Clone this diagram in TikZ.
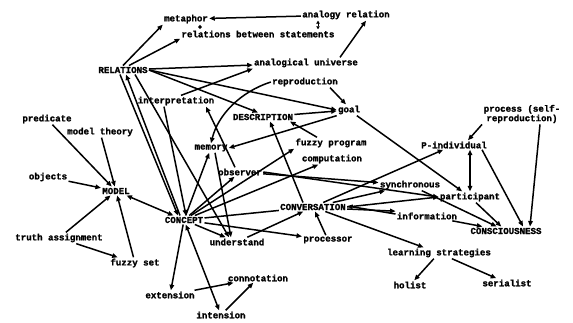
\documentclass[tikz,border=0pt]{standalone}
\usepackage{fontspec}
\setmonofont{Liberation Mono}[BoldFeatures={FakeBold=1.6}]
\usetikzlibrary{arrows.meta}
\begin{document}
\begin{tikzpicture}[x=1pt,y=-1pt,
  lbl/.style={font=\ttfamily\bfseries\fontsize{9.1}{9.5}\selectfont, inner sep=1.2pt},
  link/.style={line width=1.5pt, -{Triangle[length=5.5pt,width=4.5pt]}},
  plain/.style={line width=1.5pt},
  both/.style={line width=1.5pt, {Triangle[length=5.5pt,width=4.5pt]}-{Triangle[length=5.5pt,width=4.5pt]}},
  tiny/.style={line width=1pt, {Triangle[length=3pt,width=3.5pt]}-{Triangle[length=3pt,width=3.5pt]}},
]
\useasboundingbox (0,0) rectangle (573,322);

% concepts
\node[lbl] (meta) at (186,19) {metaphor};
\node[lbl] (anrel) at (346,15) {analogy relation};
\node[lbl] (rbs) at (258,34) {relations between statements};
\node[lbl] (rel) at (123,70) {RELATIONS};
\node[lbl] (anuniv) at (306,63) {analogical universe};
\node[lbl] (repro) at (305,82) {reproduction};
\node[lbl] (interp) at (176,101) {interpretation};
\node[lbl] (goal) at (349,110) {goal};
\node[lbl] (desc) at (263,117) {DESCRIPTION};
\node[lbl] (pred) at (47,119) {predicate};
\node[lbl] (mtheory) at (100,132) {model theory};
\node[lbl, align=center] (proc) at (522,114) {process (self-\\reproduction)};
\node[lbl] (mem) at (211,148) {memory};
\node[lbl] (fprog) at (331,143) {fuzzy program};
\node[lbl] (comp) at (332,159) {computation};
\node[lbl] (pind) at (454,145) {P-individual};
\node[lbl] (obs) at (240,172) {observer};
\node[lbl] (objs) at (48,177) {objects};
\node[lbl] (model) at (116,191) {MODEL};
\node[lbl] (sync) at (410,185) {synchronous};
\node[lbl] (part) at (470,197) {participant};
\node[lbl] (concept) at (184,220) {CONCEPT};
\node[lbl] (conv) at (313,207) {CONVERSATION};
\node[lbl] (info) at (427,216) {information};
\node[lbl] (consc) at (506,231) {CONSCIOUSNESS};
\node[lbl] (truth) at (59,238) {truth assignment};
\node[lbl] (und) at (237,242) {understand};
\node[lbl] (procr) at (328,240) {processor};
\node[lbl] (fset) at (135,263) {fuzzy set};
\node[lbl] (learn) at (439,253) {learning strategies};
\node[lbl] (holist) at (410,285) {holist};
\node[lbl] (serial) at (507,283) {serialist};
\node[lbl] (ext) at (170,295) {extension};
\node[lbl] (conn) at (258,278) {connotation};
\node[lbl] (intens) at (221,315) {intension};

% relations and analogy
\draw[link] (rel.north) -- (meta.south west);
\draw[link] ([xshift=6pt]rel.north) -- (rbs.south west);
\draw[link] (anrel) -- (meta);
\draw[tiny] ([xshift=14pt]meta.south) -- ([xshift=14pt]meta.south |- rbs.north);
\draw[tiny] ([xshift=-28pt]anrel.south) -- ([xshift=-28pt]anrel.south |- rbs.north);
\draw[link] (rel) -- (anuniv);
\draw[link] (rel.east) -- (goal.west);
\draw[link] (rel.east) -- ([xshift=-5pt]desc.north);
\draw[link] ([xshift=34pt]anuniv.north) -- ([xshift=20pt]anrel.south);
\draw[link] ([xshift=5pt]interp.north) -- (anuniv.south west);
\draw[link] ([xshift=-3pt]rel.south) -- ([xshift=-6pt]concept.north);
\draw[link] ([xshift=-4pt]concept.north) -- ([xshift=3pt]rel.south);
\draw[link] ([xshift=12pt]rel.south) -- ([xshift=-8pt]und.north);
\draw[link] ([xshift=-12pt]interp.south) -- ([xshift=2pt]concept.north);

% description and goal
\draw[link] ([xshift=25pt]repro.south) -- ([xshift=-3pt]goal.north);
\draw[link] (repro.west) .. controls (240,92) and (218,115) .. (mem.north);
\draw[link] (desc) -- (goal);
\draw[link] (goal.south west) -- (mem.east);
\draw[link] ([xshift=-14pt]fprog.north) -- ([xshift=27pt]desc.south);
\draw[link] ([xshift=-10pt]conv.north) -- ([xshift=7pt]desc.south);
\draw[link] (goal) -- (part);

% memory and observer
\draw[link] (concept) -- (mem);
\draw[link] ([xshift=4pt]mem.south) -- ([xshift=-6pt]und.north);
\draw[link] (concept) -- (obs);
\draw[link] ([xshift=-5pt]obs.north) -- ([xshift=30pt]interp.south);
\draw[link] (obs) -- (sync);
\draw[link] (obs.east) -- (part.west);
\draw[link] (concept) -- (fprog.south west);
\draw[link] (concept) -- (comp);

% conversation
\draw[plain] (concept) -- (conv);
\draw[link] (concept) -- (und);
\draw[link] (concept) -- (procr);
\draw[link] (und) -- (conv);
\draw[link] (procr) -- (conv);
\draw[link] (conv) -- (pind);
\draw[link] (conv) -- (sync);
\draw[link] (conv.east) -- (part.west);
\draw[link] ([yshift=2pt]info.west) -- ([yshift=1pt]conv.east);
\draw[link] ([yshift=-2pt]conv.east) -- (info.north west);
\draw[link] (conv) -- (learn);
\draw[link] (learn) -- (holist);
\draw[link] (learn) -- (serial);

% individual and consciousness
\draw[both] (part.north |- pind.south) -- (part.north);
\draw[link] ([xshift=28pt]pind.south) -- ([xshift=17pt]consc.north);
\draw[link] ([xshift=-40pt]proc.south) -- ([xshift=14pt]pind.north);
\draw[link] ([xshift=18pt]proc.south) -- ([xshift=24pt]consc.north);
\draw[link] (sync) -- (consc);
\draw[link] (part) -- (consc);
\draw[link] (info) -- (consc);

% model side
\draw[both] (model) -- (concept);
\draw[link] (pred) -- (model);
\draw[link] (mtheory) -- (model);
\draw[link] (objs) -- (model);
\draw[link] (truth) -- (model);
\draw[link] (truth) -- (fset);
\draw[link] (fset) -- (model);

% extension and intension
\draw[link] (concept) -- (ext);
\draw[both] (concept) -- (intens);
\draw[link] (ext) -- (conn);
\draw[link] (intens) -- (conn);
\end{tikzpicture}
\end{document}
